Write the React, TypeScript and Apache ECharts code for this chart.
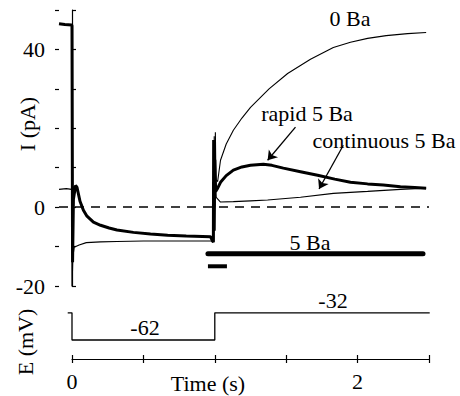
import React, { useEffect, useRef } from "react";
import * as echarts from "echarts";

// Time (s) vs current (pA)
const rapid5Ba: [number, number][] = [
  [-0.091, 46.5], [-0.05, 46.3], [-0.002, 46.2], [0.0, 46.0], [0.004, -14], [0.01, 2], [0.025, 5.5],
  [0.035, 5.0], [0.056, 1.5], [0.08, -0.8], [0.105, -2.3], [0.15, -3.8], [0.2, -4.6], [0.26, -5.3],
  [0.315, -5.8], [0.43, -6.4], [0.55, -6.8], [0.67, -7.1], [0.8, -7.3], [0.97, -7.5], [0.985, -8.6],
  [0.99, -8.9], [0.992, 17], [0.996, -6], [1.0, 12], [1.006, 4], [1.02, 4.8], [1.04, 6.3], [1.08, 8],
  [1.13, 9.4], [1.19, 10.2], [1.25, 10.6], [1.34, 10.9], [1.4, 10.6], [1.48, 9.9], [1.6, 9.0],
  [1.72, 8.1], [1.84, 7.1], [1.95, 6.3], [2.07, 5.9], [2.18, 5.6], [2.3, 5.2], [2.4, 5.0], [2.48, 4.8],
];

const continuous5Ba: [number, number][] = [
  [-0.091, 4.5], [-0.04, 4.7], [-0.002, 4.5], [0.0, -21], [0.006, -12.7], [0.015, -10.2],
  [0.05, -9.6], [0.1, -9.0], [0.2, -8.8], [0.315, -8.7], [0.5, -8.6], [0.7, -8.6], [0.97, -8.6],
  [0.993, -8.7], [0.996, 18], [1.0, 0], [1.004, 9], [1.01, 2.5], [1.04, 1.3], [1.13, 1.4],
  [1.25, 1.6], [1.37, 1.8], [1.6, 2.5], [1.83, 3.5], [2.07, 4.0], [2.3, 4.5], [2.48, 4.8],
];

const zeroBa: [number, number][] = [
  [1.0, 5], [1.004, 19], [1.008, 7], [1.02, 6.5], [1.04, 11.9], [1.08, 16], [1.13, 19.5], [1.19, 22.6],
  [1.25, 25.3], [1.38, 30], [1.51, 33.9], [1.67, 37.5], [1.83, 40.5], [1.95, 41.8], [2.07, 42.8],
  [2.2, 43.5], [2.35, 44], [2.48, 44.3],
];

// Ba application bars
const baBarLong: [number, number][] = [[0.952, -11.8], [2.458, -11.8]];
const baBarShort: [number, number][] = [[0.952, -15], [1.085, -15]];

// Voltage protocol (mV)
const voltage: [number, number][] = [
  [-0.03, -32], [0, -32], [0, -62], [1.0, -62], [1.0, -32], [2.505, -32],
];

// Arrows (from -> to) in data coords
const rapidArrow: [number, number][] = [[1.565, 20.3], [1.37, 11.9]];
const contArrow: [number, number][] = [[1.9, 15.7], [1.73, 4.6]];

const currentTicksShown = [-20, 0, 40];
const timeTicksShown = [0, 2];

const FONT = "'Liberation Serif', 'Times New Roman', serif";
const FS = 22;

export default function App() {
  const ref = useRef<HTMLDivElement>(null);
  useEffect(() => {
    if (!ref.current) return;
    document.body.style.margin = "0";
    const chart = echarts.init(ref.current, undefined, { renderer: "svg" });
    const black = "#000";
    const txt = (x: number, y: number, text: string, extra: any = {}) => ({
      type: "text",
      x,
      y,
      ...extra,
      style: {
        text,
        fontFamily: FONT,
        fontSize: FS,
        fill: black,
        textAlign: "center",
        textVerticalAlign: "middle",
        align: "center",
        verticalAlign: "middle",
      },
    });
    const tmin = -0.091;
    chart.setOption({
      animation: false,
      backgroundColor: "#fff",
      textStyle: { fontFamily: FONT },
      grid: [
        { left: 59, right: 31, top: 10, height: 276 },
        { left: 59, right: 31, top: 302, height: 57 },
        { left: 72, right: 31, top: 302, height: 57 },
      ],
      xAxis: [
        { type: "value", gridIndex: 0, min: tmin, max: 2.5, show: false },
        { type: "value", gridIndex: 1, min: tmin, max: 2.5, show: false },
        {
          type: "value", gridIndex: 2, min: 0, max: 2.5, interval: 0.5, position: "bottom",
          axisLine: { show: true, lineStyle: { color: black, width: 1.2 } },
          axisTick: { show: true, inside: true, length: 4, lineStyle: { color: black, width: 1.2 } },
          splitLine: { show: false },
          axisLabel: {
            margin: 11, color: black, fontFamily: FONT, fontSize: FS,
            formatter: (v: number) => (timeTicksShown.includes(v) ? String(v) : ""),
          },
        },
        {
          type: "value", gridIndex: 2, min: 0, max: 2.5, interval: 0.5, position: "bottom",
          axisLine: { show: false },
          axisTick: { show: true, inside: false, length: 4, lineStyle: { color: black, width: 1.2 } },
          splitLine: { show: false },
          axisLabel: { show: false },
        },
      ],
      yAxis: [
        {
          type: "value", gridIndex: 0, min: -20, max: 50, interval: 10, position: "left",
          axisLine: { show: true, lineStyle: { color: black, width: 1.2 } },
          axisTick: { show: true, inside: true, length: 4, lineStyle: { color: black, width: 1.2 } },
          splitLine: { show: false },
          axisLabel: {
            margin: 14, color: black, fontFamily: FONT, fontSize: FS,
            formatter: (v: number) => (currentTicksShown.includes(v) ? String(v) : ""),
          },
        },
        {
          type: "value", gridIndex: 0, min: -20, max: 50, interval: 10, position: "left",
          axisLine: { show: false },
          axisTick: { show: true, inside: false, length: 4, lineStyle: { color: black, width: 1.2 } },
          splitLine: { show: false },
          axisLabel: { show: false },
        },
        { type: "value", gridIndex: 1, min: -83, max: -20, show: false },
        { type: "value", gridIndex: 2, min: -83, max: -20, show: false },
      ],
      series: [
        {
          type: "line", xAxisIndex: 0, yAxisIndex: 0, data: continuous5Ba, symbol: "none",
          lineStyle: { color: black, width: 1.1 }, z: 2,
          markLine: {
            silent: true, symbol: "none", label: { show: false },
            lineStyle: { color: black, width: 1.5, type: [9, 7] },
            data: [{ yAxis: 0 }],
          },
        },
        {
          type: "line", xAxisIndex: 0, yAxisIndex: 0, data: zeroBa, symbol: "none",
          lineStyle: { color: black, width: 1.1 }, z: 2,
        },
        {
          type: "line", xAxisIndex: 0, yAxisIndex: 0, data: rapid5Ba, symbol: "none",
          lineStyle: { color: black, width: 3 }, z: 3,
          markLine: {
            silent: true, symbol: ["none", "arrow"], symbolSize: 9, label: { show: false },
            lineStyle: { color: black, width: 1.3, type: "solid" },
            data: [
              [{ coord: rapidArrow[0] }, { coord: rapidArrow[1] }],
              [{ coord: contArrow[0] }, { coord: contArrow[1] }],
            ],
          },
        },
        {
          type: "line", xAxisIndex: 0, yAxisIndex: 0, data: baBarLong, symbol: "none",
          lineStyle: { color: black, width: 5, cap: "round" },
        },
        {
          type: "line", xAxisIndex: 0, yAxisIndex: 0, data: baBarShort, symbol: "none",
          lineStyle: { color: black, width: 4 },
        },
        {
          type: "line", xAxisIndex: 1, yAxisIndex: 2, data: voltage, symbol: "none",
          lineStyle: { color: black, width: 1.3 },
        },
      ],
      graphic: [
        txt(27, 124, "I (pA)", { rotation: Math.PI / 2 }),
        txt(25, 342, "E (mV)", { rotation: Math.PI / 2 }),
        txt(350, 18, "0 Ba"),
        txt(307, 113, "rapid 5 Ba"),
        txt(384, 140, "continuous 5 Ba"),
        txt(310, 242, "5 Ba"),
        txt(145, 327, "-62"),
        txt(333, 300, "-32"),
        txt(208, 383, "Time (s)"),
      ],
    });
    return () => chart.dispose();
  }, []);
  return <div ref={ref} style={{ width: 460, height: 396 }} />;
}
